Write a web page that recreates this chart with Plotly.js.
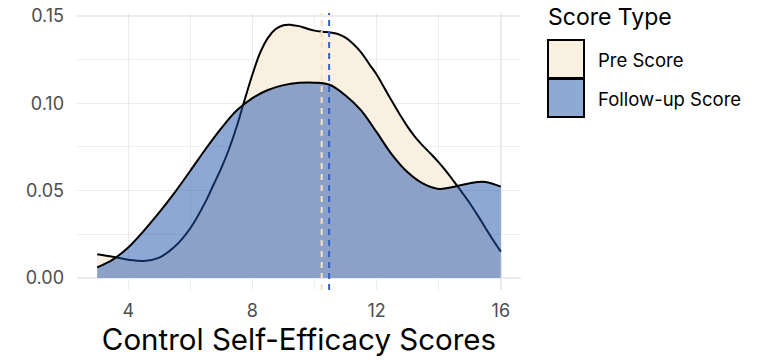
<!DOCTYPE html>
<html>
<head>
<meta charset="utf-8">
<script src="https://cdn.plot.ly/plotly-3.0.1.min.js"></script>
<style>
html,body{margin:0;padding:0;background:#fff;}
#chart{width:761px;height:360px;}
</style>
</head>
<body>
<div id="chart"></div>
<script>
// ---- data ----
const scoreTypes = ["Pre Score", "Follow-up Score"];

const preX = [3.0,3.5,4.0,4.5,5.0,5.5,6.0,6.5,6.75,7.0,7.25,7.5,7.75,8.0,8.25,8.5,8.75,9.0,9.25,9.5,9.75,10.0,10.25,10.5,10.75,11.0,11.25,11.5,11.75,12.0,12.25,12.5,12.75,13.0,13.25,13.5,13.75,14.0,14.25,14.5,14.75,15.0,15.25,15.5,15.75,16.0];
const preY = [0.0136,0.0122,0.0105,0.0097,0.0117,0.0180,0.0285,0.0440,0.0535,0.0630,0.0740,0.0870,0.1020,0.1165,0.1290,0.1375,0.1425,0.1447,0.1449,0.1442,0.1428,0.1416,0.1410,0.1406,0.1397,0.1376,0.1340,0.1292,0.1228,0.1165,0.1088,0.1010,0.0935,0.0865,0.0805,0.0755,0.0710,0.0662,0.0609,0.0550,0.0490,0.0428,0.0360,0.0288,0.0218,0.0151];

const followX = [3.0,3.5,4.0,4.5,5.0,5.5,6.0,6.5,7.0,7.5,8.0,8.5,9.0,9.5,10.0,10.5,11.0,11.5,12.0,12.5,13.0,13.5,14.0,14.5,15.0,15.5,16.0];
const followY = [0.0061,0.0105,0.0175,0.0270,0.0375,0.0490,0.0614,0.0740,0.0858,0.0960,0.1030,0.1076,0.1104,0.1117,0.1118,0.1105,0.1045,0.0960,0.0835,0.0705,0.0605,0.0540,0.0510,0.0522,0.0543,0.0550,0.0523];

const meanScores = [10.23, 10.47];

const xTickVals = [4, 8, 12, 16];
const yTickVals = [0.00, 0.05, 0.10, 0.15];
const yTickText = ["0.00", "0.05", "0.10", "0.15"];

// ---- styles ----
const FONT = "Inter, 'Noto Sans', sans-serif";
const fillColors = ["#FAF0E2", "rgba(30,82,172,0.5)"];
const keyColors = ["#FAF0E2", "#8FA9D5"];
const meanColors = ["#F2E2C6", "#3462C4"];
const GRID = "#EBEBEB";

const traces = [
  {x: preX, y: preY, type: "scatter", mode: "lines", name: scoreTypes[0],
   fill: "tozeroy", fillcolor: fillColors[0],
   line: {color: "#000000", width: 2, shape: "spline", smoothing: 1}, showlegend: false, hoverinfo: "skip"},
  {x: followX, y: followY, type: "scatter", mode: "lines", name: scoreTypes[1],
   fill: "tozeroy", fillcolor: fillColors[1],
   line: {color: "#000000", width: 2, shape: "spline", smoothing: 1}, showlegend: false, hoverinfo: "skip"}
];

// plot area in pixels: left 77, right 521, top 13, bottom 290
const L = 77, R = 521, T = 13, B = 290;
const px = v => (v - L) / (R - L);
const py = v => (B - v) / (B - T);

const shapes = [];
meanScores.forEach((m, i) => {
  shapes.push({type: "line", xref: "x", yref: "paper", x0: m, x1: m, y0: 0, y1: 1,
    line: {color: meanColors[i], width: 2, dash: "6px,5px"}, layer: "above"});
});
// legend keys
const keyTop = [40, 79];
const keyBot = [78, 117];
scoreTypes.forEach((s, i) => {
  shapes.push({type: "rect", xref: "paper", yref: "paper",
    x0: px(548), x1: px(584), y0: py(keyBot[i]), y1: py(keyTop[i]),
    fillcolor: keyColors[i], line: {color: "#000000", width: 2}, layer: "above"});
});

const annotations = [
  {xref: "paper", yref: "paper", x: px(546), y: py(17), text: "Score Type", showarrow: false,
   xanchor: "left", yanchor: "middle", font: {family: FONT, size: 23, color: "#000000"}},
];
const labelY = [60, 99];
scoreTypes.forEach((s, i) => {
  annotations.push({xref: "paper", yref: "paper", x: px(596), y: py(labelY[i]), text: s, showarrow: false,
    xanchor: "left", yanchor: "middle", font: {family: FONT, size: 18.5, color: "#000000"}});
});

const layout = {
  width: 761, height: 360,
  margin: {l: L, r: 761 - R, t: T, b: 360 - B},
  paper_bgcolor: "#FFFFFF", plot_bgcolor: "#FFFFFF",
  font: {family: FONT},
  showlegend: false,
  xaxis: {
    range: [2.35, 16.65], tickvals: xTickVals, ticktext: xTickVals.map(String),
    showgrid: true, gridcolor: GRID, gridwidth: 1.4, zeroline: false, showline: false,
    ticks: "", tickfont: {family: FONT, size: 18, color: "#4D4D4D"},
    ticklabelstandoff: 8,
    minor: {tickvals: [6, 10, 14], showgrid: true, gridcolor: GRID, gridwidth: 0.8, ticks: ""},
    title: {text: "Control Self-Efficacy Scores", font: {family: FONT, size: 29.5, color: "#000000"}, standoff: 8}
  },
  yaxis: {
    range: [-0.00687, 0.1517], tickvals: yTickVals, ticktext: yTickText,
    showgrid: true, gridcolor: GRID, gridwidth: 1.4, zeroline: false, showline: false,
    ticks: "", tickfont: {family: FONT, size: 18, color: "#4D4D4D"},
    ticklabelstandoff: 12,
    minor: {tickvals: [0.025, 0.075, 0.125], showgrid: true, gridcolor: GRID, gridwidth: 0.8, ticks: ""}
  },
  shapes: shapes,
  annotations: annotations
};

Plotly.newPlot("chart", traces, layout, {staticPlot: true, displayModeBar: false});
</script>
</body>
</html>
